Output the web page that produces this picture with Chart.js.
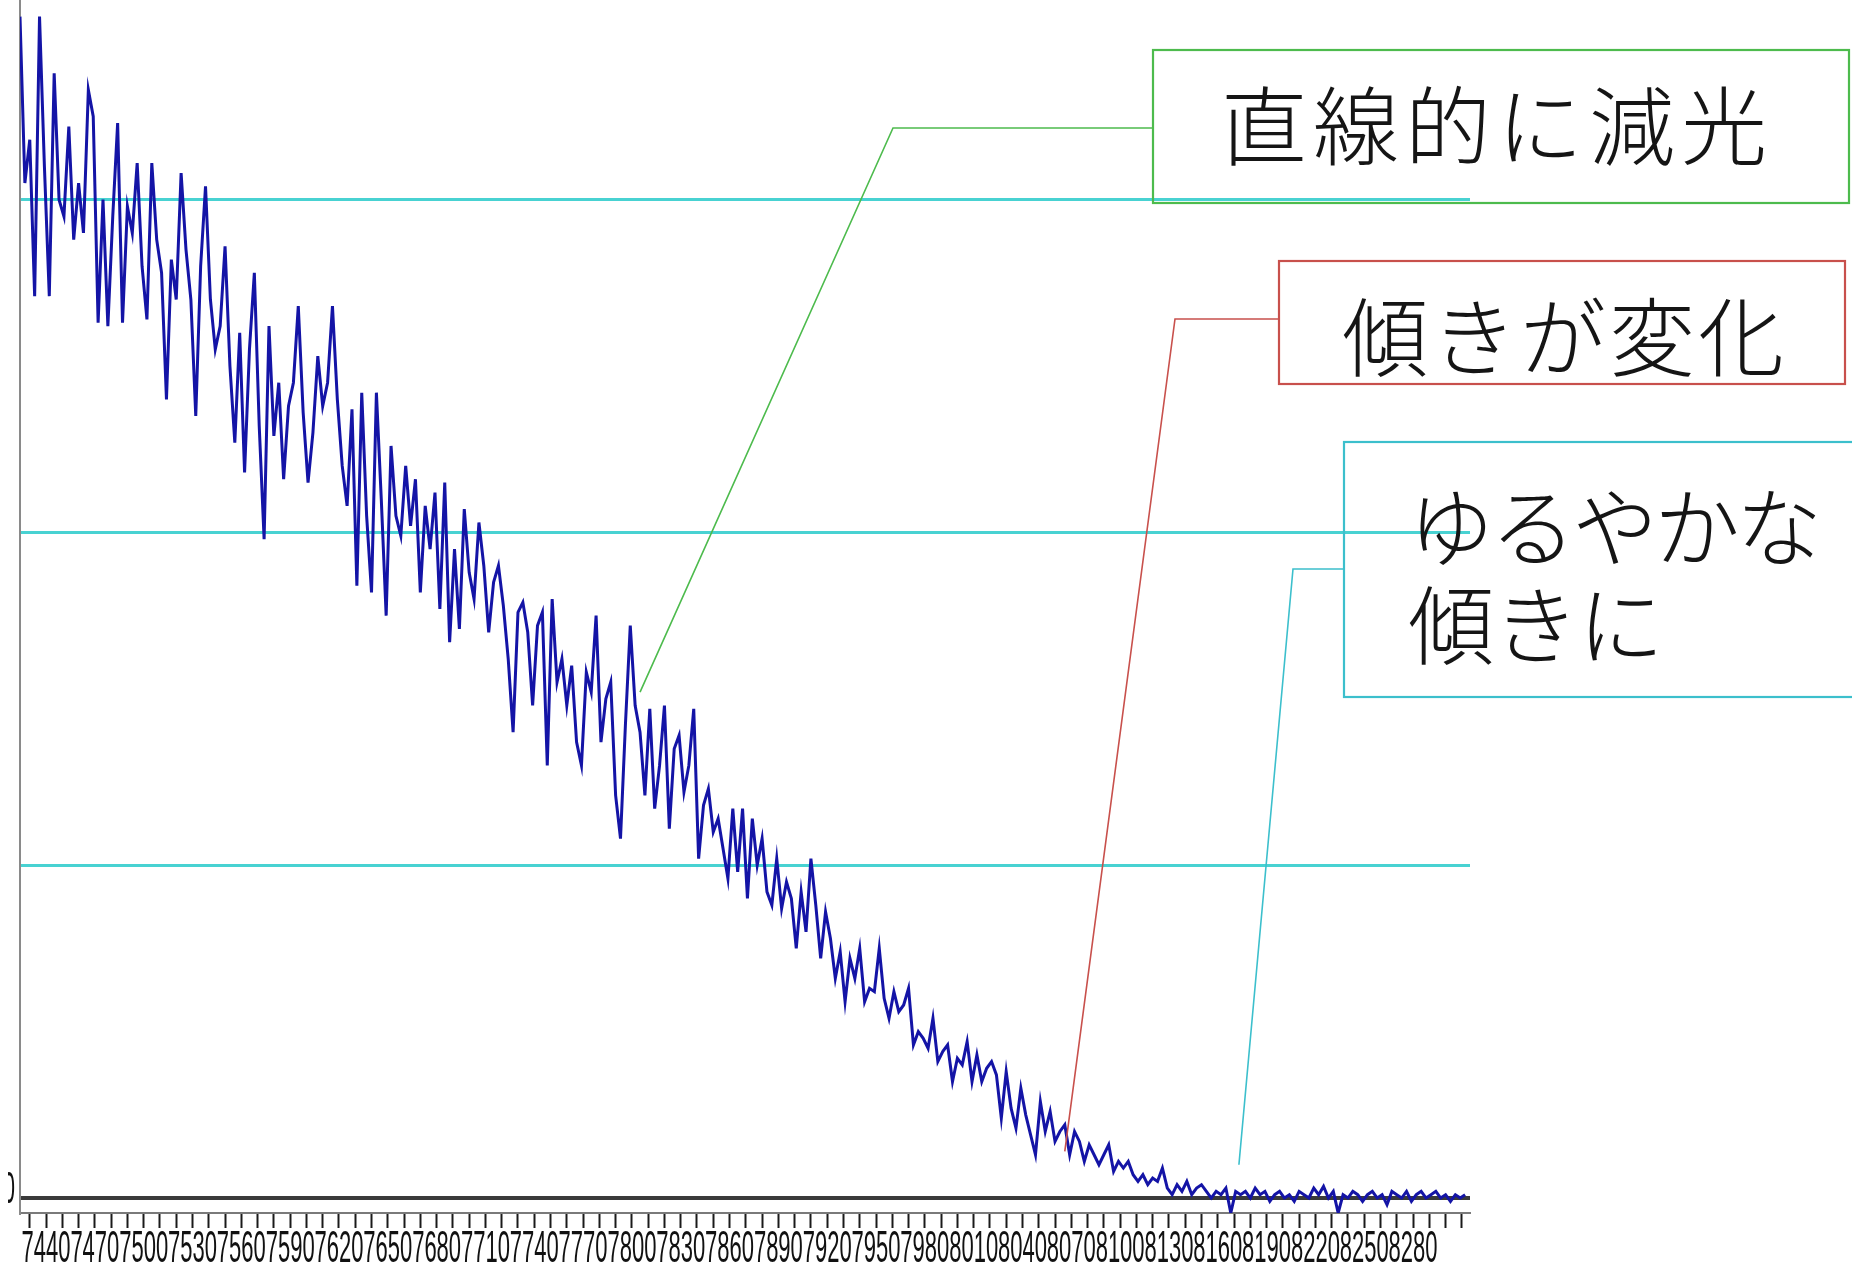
<!DOCTYPE html>
<html lang="ja">
<head>
<meta charset="utf-8">
<title>減光の様子</title>
<script src="https://cdn.jsdelivr.net/npm/chart.js@4.4.1/dist/chart.umd.min.js"></script>
<style>
  html, body { margin: 0; padding: 0; background: #fff; overflow: hidden; }
  body { width: 1852px; height: 1265px; position: relative; }
  #wrap { position: absolute; left: 8px; top: 0; width: 1844px; height: 1265px; }
  canvas { display: block; }
</style>
</head>
<body>
<div id="wrap"><canvas id="lc" width="1844" height="1265"></canvas></div>
<script>
// Sampling of the light curve: one reading every 3 time units from 7424
const sampleStart = 7424;
const sampleStep = 3;

// Brightness readings (0 = fully dimmed level)
const brightness = [
  3.55, 3.05, 3.18, 2.71, 3.55, 3.10, 2.71, 3.38,
  3.00, 2.95, 3.22, 2.88, 3.05, 2.90,
  3.33, 3.25, 2.63, 3.00, 2.62, 2.95,
  3.23, 2.63, 2.98, 2.90, 3.11, 2.80, 2.64,
  3.11, 2.88, 2.78, 2.40, 2.82,
  2.70, 3.08, 2.85, 2.70, 2.35, 2.80, 3.04,
  2.70, 2.55, 2.62, 2.86, 2.50, 2.27, 2.60, 2.18,
  2.55, 2.78, 2.32, 1.98, 2.62, 2.29,
  2.45, 2.16, 2.38, 2.45, 2.68, 2.36, 2.15, 2.30, 2.53, 2.38, 2.45, 2.68,
  2.40, 2.20, 2.08, 2.37, 1.84, 2.42, 2.05, 1.82, 2.42, 2.10, 1.75,
  2.26, 2.05, 1.99, 2.20, 2.02, 2.16, 1.82, 2.08, 1.95, 2.12, 1.77,
  2.15, 1.67, 1.95, 1.71, 2.07, 1.88, 1.80, 2.03, 1.90, 1.70, 1.85,
  1.90, 1.78, 1.62, 1.40, 1.76, 1.79, 1.70, 1.48, 1.72,
  1.76, 1.30, 1.80, 1.55, 1.62, 1.48, 1.60, 1.37, 1.30, 1.58, 1.52,
  1.75, 1.37, 1.50, 1.55, 1.21, 1.08, 1.42, 1.72, 1.48,
  1.40, 1.21, 1.47, 1.17, 1.30, 1.48, 1.11, 1.35, 1.39, 1.22, 1.30,
  1.47, 1.02, 1.18, 1.23, 1.10, 1.14, 1.05,
  0.96, 1.17, 0.98, 1.17, 0.90, 1.14, 1.00,
  1.08, 0.92, 0.88, 1.02, 0.87, 0.95, 0.90,
  0.75, 0.92, 0.80, 1.02,
  0.88, 0.72, 0.86, 0.78, 0.66, 0.74,
  0.59, 0.72, 0.66, 0.75, 0.59, 0.63, 0.62,
  0.75, 0.60, 0.54, 0.62, 0.56, 0.58,
  0.63, 0.46, 0.50, 0.48, 0.45, 0.54, 0.41,
  0.44, 0.46, 0.35, 0.42, 0.40, 0.47, 0.35,
  0.43, 0.35, 0.39, 0.41, 0.37,
  0.24, 0.38, 0.27, 0.21, 0.33, 0.25, 0.19,
  0.13, 0.29, 0.20, 0.26, 0.17, 0.20,
  0.22, 0.13, 0.20, 0.17, 0.11, 0.16, 0.13,
  0.10, 0.13, 0.16, 0.08, 0.11, 0.09, 0.11,
  0.07, 0.05, 0.07, 0.04, 0.06, 0.05, 0.09,
  0.03, 0.01, 0.04, 0.02, 0.05, 0.01, 0.03, 0.04, 0.02, 0.00,
  0.02, 0.01, 0.03, -0.045, 0.02, 0.01, 0.02, 0.00, 0.03, 0.01,
  0.02, -0.01, 0.01, 0.02, 0.00, 0.01, -0.01, 0.02, 0.01, 0.00,
  0.03, 0.01, 0.035, 0.00, 0.02, -0.045, 0.01, 0.00, 0.02, 0.01,
  -0.01, 0.01, 0.02, 0.00, 0.01, -0.02, 0.02, 0.01, 0.00, 0.02,
  -0.01, 0.01, 0.02, 0.00, 0.01, 0.02, 0.00, 0.01, -0.01, 0.01,
  0.00, 0.01
];

// Axis labels
const xTickLabels = ['7440','7470','7500','7530','7560','7590','7620','7650','7680','7710',
  '7740','7770','7800','7830','7860','7890','7920','7950','7980','8010',
  '8040','8070','8100','8130','8160','8190','8220','8250','8280'];
const xTickFirst = 7430, xTickLast = 8310, xTickEvery = 10;
const yTickLabels = ['0'];
const yGridValues = [0, 1, 2, 3];

// Callout texts and the point of the curve each one refers to
const calloutTexts = [['直線的に減光'], ['傾きが変化'], ['ゆるやかな', '傾きに']];
const calloutAnchors = [{ x: 7805, y: 1.52 }, { x: 8066, y: 0.14 }, { x: 8173, y: 0.10 }];

// ---- layout (canvas pixels) ----
const OFF = 8; // canvas starts 8px from the page edge
const calloutLayout = [
  { color: '#4dbb4d', box: [1153, 50, 1849, 203], elbow: [893, 128],
    lines: [{ x: 1221, base: 159, adv: 92 }] },
  { color: '#c8504c', box: [1279, 261, 1845, 384], elbow: [1175, 319],
    lines: [{ x: 1342, base: 370, adv: 89 }] },
  { color: '#3cbfcc', box: [1344, 442, 1870, 697], elbow: [1293, 569],
    lines: [{ x: 1408, base: 560, adv: 82 }, { x: 1408, base: 658, adv: 85 }] }
];

const points = brightness.map((v, i) => ({ x: sampleStart + sampleStep * i, y: v }));

const overlay = {
  id: 'overlay',
  afterDraw(chart) {
    const ctx = chart.ctx;
    const xs = chart.scales.x, ys = chart.scales.y;

    // condensed tick labels under the time axis
    ctx.save();
    ctx.fillStyle = '#111';
    ctx.font = '44px "Liberation Sans", Arial, sans-serif';
    ctx.textAlign = 'center';
    ctx.textBaseline = 'alphabetic';
    xTickLabels.forEach(lbl => {
      const px = xs.getPixelForValue(Number(lbl));
      ctx.save();
      ctx.translate(px, 1262);
      ctx.scale(0.5, 1);
      ctx.fillText(lbl, 0, 0);
      ctx.restore();
    });
    // value label of the zero line
    ctx.textAlign = 'right';
    yTickLabels.forEach(lbl => {
      const py = ys.getPixelForValue(Number(lbl));
      ctx.save();
      ctx.translate(ys.right - 5, py + 5);
      ctx.scale(0.5, 1);
      ctx.fillText(lbl, 0, 0);
      ctx.restore();
    });
    ctx.restore();

    // callouts: box, leader line and text
    ctx.save();
    ctx.font = '300 86px "Noto Sans CJK JP", sans-serif';
    ctx.textBaseline = 'alphabetic';
    ctx.textAlign = 'left';
    calloutLayout.forEach((c, k) => {
      const a = calloutAnchors[k];
      const ax = xs.getPixelForValue(a.x), ay = ys.getPixelForValue(a.y);
      const [l, t, r, b] = c.box;
      ctx.strokeStyle = c.color;
      ctx.lineWidth = 1.6;
      ctx.beginPath();
      ctx.moveTo(ax, ay);
      ctx.lineTo(c.elbow[0] - OFF, c.elbow[1]);
      ctx.lineTo(l - OFF, c.elbow[1]);
      ctx.stroke();
      ctx.lineWidth = 2.2;
      ctx.strokeRect(l - OFF, t, r - l, b - t);
      ctx.fillStyle = '#151515';
      calloutTexts[k].forEach((txt, j) => {
        const ln = c.lines[j];
        Array.from(txt).forEach((ch, n) => {
          ctx.fillText(ch, ln.x - OFF + n * ln.adv, ln.base);
        });
      });
    });
    ctx.restore();
  }
};

new Chart(document.getElementById('lc'), {
  type: 'line',
  data: {
    datasets: [{
      data: points,
      borderColor: '#1414a6',
      borderWidth: 3,
      pointRadius: 0,
      tension: 0,
      borderJoinStyle: 'miter',
      fill: false
    }]
  },
  options: {
    responsive: false,
    animation: false,
    devicePixelRatio: 1,
    layout: { padding: { left: 0, top: 0, right: 382, bottom: 0 } },
    plugins: { legend: { display: false }, tooltip: { enabled: false } },
    scales: {
      x: {
        type: 'linear',
        position: 'bottom',
        min: 7424,
        max: 8315,
        afterBuildTicks(s) {
          const t = [];
          for (let v = xTickFirst; v <= xTickLast; v += xTickEvery) t.push({ value: v });
          s.ticks = t;
        },
        afterFit(s) { s.height = 52; },
        ticks: { display: false },
        grid: { display: true, drawOnChartArea: false, drawTicks: true, tickLength: 15, tickColor: '#1a1a1a', tickWidth: 2 },
        border: { display: true, color: '#7a7a7a', width: 2 }
      },
      y: {
        type: 'linear',
        min: -0.045,
        max: 3.6,
        afterBuildTicks(s) { s.ticks = yGridValues.map(v => ({ value: v })); },
        afterFit(s) { s.width = 12; },
        ticks: { display: false },
        grid: {
          drawTicks: false,
          color: c => (c.tick && c.tick.value === 0) ? '#3a3a3a' : '#48d2d2',
          lineWidth: c => (c.tick && c.tick.value === 0) ? 4 : 3
        },
        border: { display: true, color: '#8a8a8a', width: 2 }
      }
    }
  },
  plugins: [overlay]
});
</script>
</body>
</html>
